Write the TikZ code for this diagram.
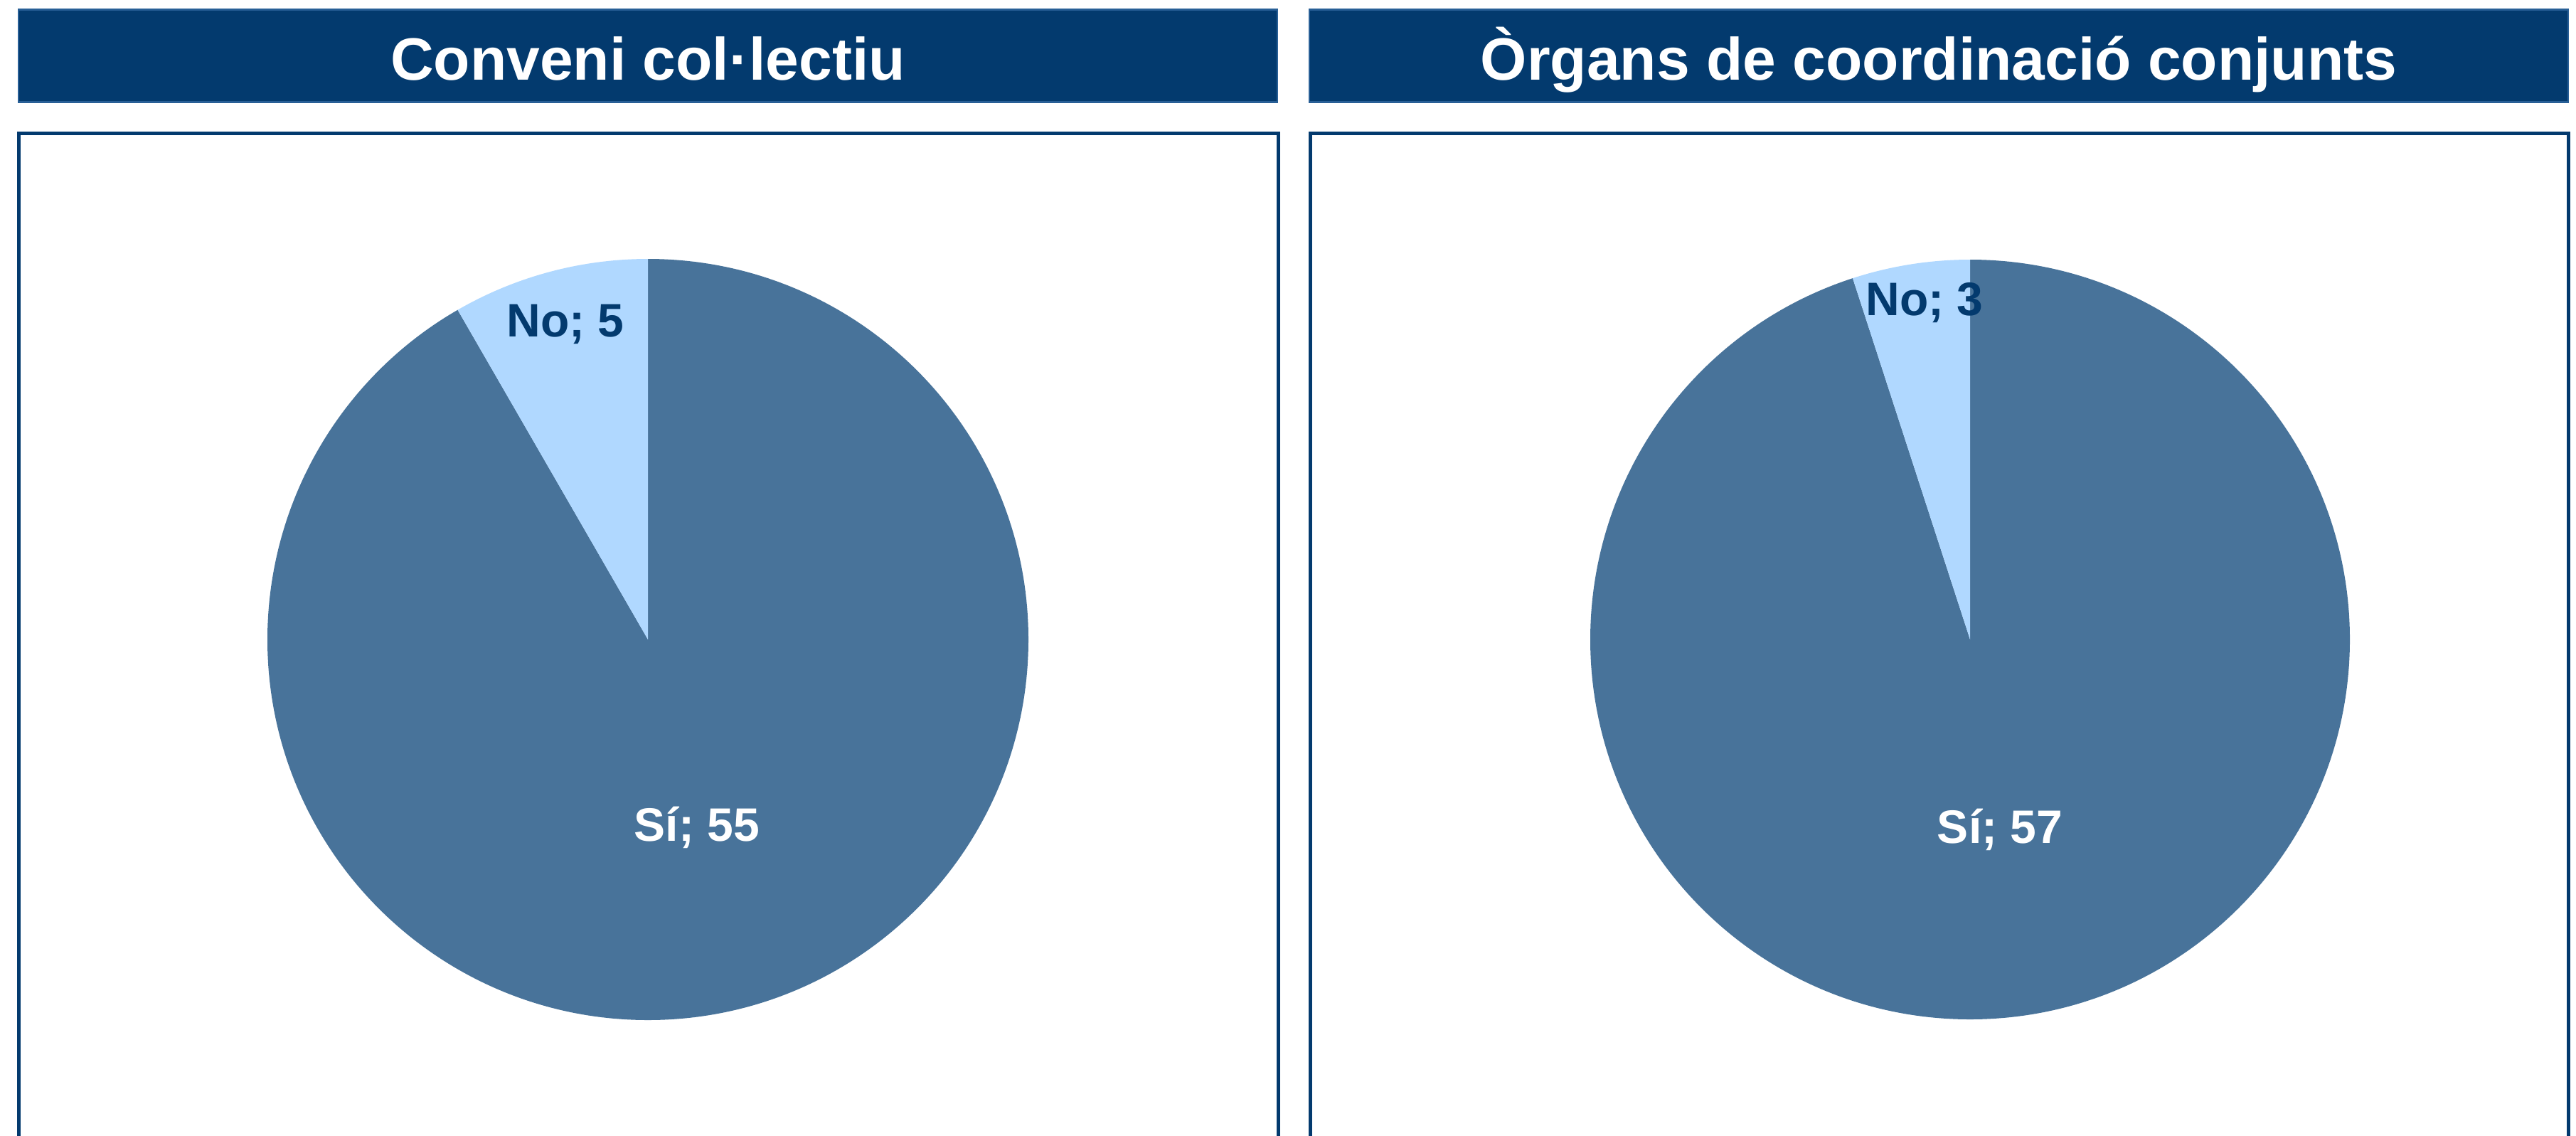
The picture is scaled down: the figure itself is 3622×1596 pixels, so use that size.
\documentclass[tikz,border=0pt]{standalone}
\usepackage{fontspec}
\setmainfont{Liberation Sans}
\definecolor{navy}{RGB}{3,58,110}
\definecolor{navyedge}{RGB}{40,95,150}
\definecolor{sicol}{RGB}{72,115,154}
\definecolor{nocol}{RGB}{176,216,255}
\begin{document}
\begin{tikzpicture}[x=0.5pt,y=-0.5pt,
  titlebar/.style={fill=navy, draw=navyedge, line width=1.2pt, minimum width=885pt, minimum height=65pt, inner sep=0pt},
  titletext/.style={text=white, anchor=base, inner sep=0pt, font=\bfseries\fontsize{42}{50}\selectfont},
  frame/.style={draw=navy, line width=2.5pt},
  nolabel/.style={text=navy, anchor=base, inner sep=0pt, font=\bfseries\fontsize{33}{40}\selectfont},
  silabel/.style={text=white, anchor=base, inner sep=0pt, font=\bfseries\fontsize{33}{40}\selectfont}]
\useasboundingbox (0,0) rectangle (3622,1596);
% title bars
\node[titlebar] (bar1) at (911,78.5) {};
\node[titlebar] (bar2) at (2726,78.5) {};
\node[titletext] (t1) at (911,112) {Conveni col·lectiu};
\node[titletext] (t2) at (2726,112) {Òrgans de coordinació conjunts};
% frames (open at the bottom)
\draw[frame] (26,1640) |- (1797,187) -- (1797,1640);
\draw[frame] (1842,1640) |- (3611,187) -- (3611,1640);
% left pie
\begin{scope}[shift={(911,899)}, yscale=-1]
  \fill[sicol] (0,0) -- (90:535) arc[start angle=90, end angle=-240, radius=535] -- cycle;
  \fill[nocol] (0,0) -- (120:535) arc[start angle=120, end angle=90, radius=535] -- cycle;
\end{scope}
% right pie
\begin{scope}[shift={(2770,899)}, yscale=-1]
  \fill[sicol] (0,0) -- (90:534) arc[start angle=90, end angle=-252, radius=534] -- cycle;
  \fill[nocol] (0,0) -- (108:534) arc[start angle=108, end angle=90, radius=534] -- cycle;
\end{scope}
% labels
\node[nolabel] (no1) at (795,473) {No; 5};
\node[silabel] (si1) at (980,1182) {Sí; 55};
\node[nolabel] (no2) at (2706,443) {No; 3};
\node[silabel] (si2) at (2812,1185) {Sí; 57};
\end{tikzpicture}
\end{document}
